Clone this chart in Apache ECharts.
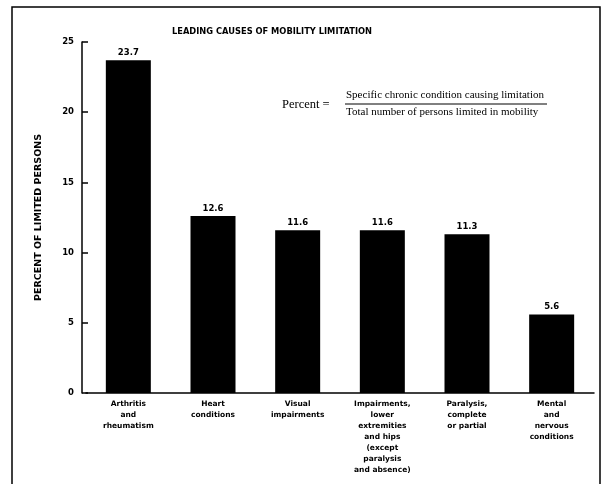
<!DOCTYPE html>
<html>
<head>
<meta charset="utf-8">
<script src="https://cdn.jsdelivr.net/npm/echarts@6/dist/echarts.min.js"></script>
<style>html,body{margin:0;padding:0;background:#fff}#c{width:602px;height:484px}</style>
</head>
<body>
<div id="c"></div>
<script>
var categories = [
  "Arthritis\nand\nrheumatism",
  "Heart\nconditions",
  "Visual\nimpairments",
  "Impairments,\nlower\nextremities\nand hips\n(except\nparalysis\nand absence)",
  "Paralysis,\ncomplete\nor partial",
  "Mental\nand\nnervous\nconditions"
];
var values = [23.7, 12.6, 11.6, 11.6, 11.3, 5.6];
var valueLabels = ["23.7", "12.6", "11.6", "11.6", "11.3", "5.6"];
var yTicks = [0, 5, 10, 15, 20, 25];

var chart = echarts.init(document.getElementById('c'), null, {renderer: 'canvas'});
var boldFont = 'DejaVu Sans';
chart.setOption({
  animation: false,
  backgroundColor: '#fff',
  title: {
    text: 'LEADING CAUSES OF MOBILITY LIMITATION',
    left: 267, top: 23, textAlign: 'center',
    textStyle: {fontFamily: boldFont, fontWeight: 'bold', fontSize: 8.3, color: '#000'}
  },
  grid: {left: 86, right: 8, top: 42, bottom: 91},
  xAxis: {
    type: 'category',
    data: categories,
    axisLine: {show: true, lineStyle: {color: '#000', width: 1.5}},
    axisTick: {show: false},
    axisLabel: {
      color: '#000', fontFamily: boldFont, fontWeight: 'bold', fontSize: 7.5,
      lineHeight: 11, margin: 6, interval: 0
    }
  },
  yAxis: {
    type: 'value',
    min: 0, max: 25, interval: 5,
    offset: 4,
    name: 'PERCENT OF LIMITED PERSONS',
    nameLocation: 'middle',
    nameGap: 38,
    nameRotate: 90,
    nameTextStyle: {fontFamily: boldFont, fontWeight: 'bold', fontSize: 9.5, color: '#000'},
    axisLine: {show: true, lineStyle: {color: '#000', width: 1.5}},
    axisTick: {show: true, inside: true, length: 6, lineStyle: {color: '#000', width: 1.5}},
    splitLine: {show: false},
    axisLabel: {
      color: '#000', fontFamily: boldFont, fontWeight: 'bold', fontSize: 8.5, margin: 8,
      formatter: function (v) { return yTicks.indexOf(v) >= 0 ? String(v) : ''; }
    }
  },
  series: [{
    type: 'bar',
    data: values,
    barWidth: 45,
    itemStyle: {color: '#000'},
    label: {
      show: true, position: 'top', distance: 3,
      color: '#000', fontFamily: boldFont, fontWeight: 'bold', fontSize: 8.5,
      formatter: function (p) { return valueLabels[p.dataIndex]; }
    }
  }],
  graphic: [
    {type: 'polyline', shape: {points: [[12, 490], [12, 7], [600, 7], [600, 490]]},
     style: {stroke: '#000', lineWidth: 1.5, fill: null}},
    {type: 'text', left: 282, top: 98,
     style: {text: 'Percent =', font: '12.5px "Liberation Serif"', fill: '#000'}},
    {type: 'text', left: 346, top: 90,
     style: {text: 'Specific chronic condition causing limitation', font: '11px "Liberation Serif"', fill: '#000'}},
    {type: 'line', shape: {x1: 345, y1: 104, x2: 547, y2: 104},
     style: {stroke: '#000', lineWidth: 1}},
    {type: 'text', left: 346, top: 107,
     style: {text: 'Total number of persons limited in mobility', font: '11px "Liberation Serif"', fill: '#000'}}
  ]
});
</script>
</body>
</html>
